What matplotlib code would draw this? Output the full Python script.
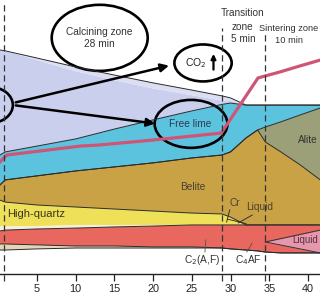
from matplotlib import pyplot as plt
from matplotlib.patches import Ellipse

plt.rcParams['font.family'] = ['Liberation Sans', 'DejaVu Sans']

# residence time in the kiln [min], shared by all phase boundaries
time_min = [0.2, 0.9, 5, 10, 15, 20, 25, 28.9, 30, 32, 33.5, 34.5, 36.5, 39, 41.6]

# cumulative phase amounts (stacked, relative units) - upper edge of each band
minor_top = [10.7, 10.7, 11.2, 11.6, 11.6, 11.6, 11.6, 11.6, 11.2, 10.7, 10.3, 9.8, 9.4, 9.4, 9.4]
ferrite_bottom = [13.4, 13.4, 13.0, 12.5, 12.5, 12.1, 12.1, 11.6, 11.2, 10.7, 10.3, 9.8, 9.4, 9.4, 9.4]
ferrite_top = [19.2, 19.6, 20.1, 20.5, 21.0, 21.4, 21.9, 21.9, 21.9, 21.9, 21.9, 21.9, 21.9, 21.9, 21.9]
quartz_bottom = [21.4, 21.4, 21.4, 21.9, 21.9, 21.9, 21.9, 21.9, 21.9, 21.9, 21.9, 21.9, 21.9, 21.9, 21.9]
quartz_top = [33.0, 32.1, 30.8, 29.9, 29.0, 28.1, 27.2, 26.8, 25.4, 21.9, 21.9, 21.9, 21.9, 21.9, 21.9]
belite_top = [39.7, 42.0, 43.8, 46.0, 47.8, 49.6, 51.8, 53.1, 54.5, 60.7, 64.3, 58.9, 54.5, 48.7, 42.0]
alite_top = [39.7, 42.0, 43.8, 46.0, 47.8, 49.6, 51.8, 53.1, 54.5, 60.7, 64.3, 65.6, 67.9, 71.0, 74.1]
lime_top = [53.1, 54.5, 57.1, 60.3, 64.7, 68.8, 72.8, 75.7, 76.3, 75.4, 75.4, 75.4, 75.4, 75.4, 75.4]
clay_bottom = [100.0, 99.6, 95.5, 90.5, 86.5, 82.8, 79.8, 77.4, 77.2, 75.4, 75.4, 75.4, 75.4, 75.4, 75.4]
calcite_top = [100.0, 99.6, 96.4, 92.4, 88.8, 85.3, 82.1, 79.5, 78.6, 75.4, 75.4, 75.4, 75.4, 75.4, 75.4]

# liquid phase wedge inside the ferrite band
liquid_time = [34.5, 41.6]
liquid_low = [14.3, 9.4]
liquid_high = [14.3, 19.6]

# material temperature curve (same vertical scale)
temp_time = [0.2, 1.1, 10.6, 13.1, 20.0, 28.8, 33.55, 36.4, 39.0, 41.6]
temp_curve = [50.0, 53.1, 57.1, 57.6, 59.8, 62.9, 87.5, 90.2, 92.9, 95.5]

# zone boundaries [min]
zone_bounds = [0.7, 28.9, 34.5]
zone_tops = [122.0, 109.8, 108.0]

fig = plt.figure(figsize=(3.2, 3.0), dpi=100)
ax = fig.add_axes([0, 26 / 300, 1, 274 / 300])

# stacked bands, bottom to top: (lower, upper, colour)
bands = [
    (minor_top, ferrite_bottom, '#e4d6b6'),
    (ferrite_bottom, ferrite_top, '#e8675e'),
    (ferrite_top, quartz_bottom, '#f4efdc'),
    (quartz_bottom, quartz_top, '#efe05a'),
    (quartz_top, belite_top, '#c9a245'),
    (belite_top, alite_top, '#9ca078'),
    (alite_top, lime_top, '#5cc3df'),
    (lime_top, clay_bottom, '#cbcfee'),
    (clay_bottom, calcite_top, '#dcdff2'),
]
for low, high, col in bands:
    ax.fill_between(time_min, low, high, color=col, lw=0)

ax.fill_between(liquid_time, liquid_low, liquid_high, color='#e597ad', lw=0)
ax.plot(liquid_time, liquid_low, color='#333333', lw=0.7)
ax.plot(liquid_time, liquid_high, color='#333333', lw=0.7)

# thin dark boundary lines between the phases
for edge in [minor_top, ferrite_bottom, ferrite_top, quartz_top, belite_top, alite_top, lime_top, calcite_top]:
    ax.plot(time_min, edge, color='#2b2b2b', lw=0.7)

# temperature curve
ax.plot(temp_time, temp_curve, color='#cf5576', lw=2.3, solid_joinstyle='miter')

# dashed zone separators
for xb, top in zip(zone_bounds, zone_tops):
    ax.plot([xb, xb], [-3, top], color='#333333', lw=0.9, ls=(0, (5, 3)), clip_on=False)

# circled annotations
ax.add_patch(Ellipse((13.1, 105.4), 12.4, 29.5, fill=False, ec='black', lw=1.9))
ax.text(13.1, 105.4, 'Calcining zone\n28 min', ha='center', va='center', fontsize=7.3, color='#333333')

ax.add_patch(Ellipse((26.45, 94.2), 7.4, 16.5, fill=False, ec='black', lw=1.9))
ax.text(25.5, 94.2, 'CO$_2$', ha='center', va='center', fontsize=7.5, color='#222222')
ax.annotate('', xy=(27.8, 99.5), xytext=(27.8, 90.0),
            arrowprops=dict(arrowstyle='-|>', lw=1.6, color='black', mutation_scale=7))

ax.add_patch(Ellipse((24.9, 67.0), 9.4, 21.4, fill=False, ec='black', lw=1.9))
ax.text(24.8, 67.0, 'Free lime', ha='center', va='center', fontsize=7.3, color='#2a3a55')

ax.add_patch(Ellipse((-1.07, 75.4), 5.9, 16.1, fill=False, ec='black', lw=1.9))
ax.annotate('', xy=(22.4, 93.3), xytext=(1.9, 76.3),
            arrowprops=dict(arrowstyle='-|>', lw=1.8, color='black', mutation_scale=12))
ax.annotate('', xy=(20.6, 67.0), xytext=(1.9, 75.4),
            arrowprops=dict(arrowstyle='-|>', lw=1.8, color='black', mutation_scale=12))

# zone titles
ax.text(31.6, 116.3, 'Transition', ha='center', va='center', fontsize=7.2, color='#333333')
ax.text(31.6, 107.6, 'zone\n5 min', ha='center', va='center', fontsize=7.2,
        color='#333333', linespacing=1.2)
ax.text(37.5, 106.9, 'Sintering zone\n10 min', ha='center', va='center', fontsize=6.7,
        color='#333333', linespacing=1.3)

# phase labels
ax.text(25.15, 38.8, 'Belite', ha='center', va='center', fontsize=7.3, color='#4a4030')
ax.text(1.1, 26.8, 'High-quartz', ha='left', va='center', fontsize=8, color='#3a3520')
ax.text(30.6, 31.7, 'Cr', ha='center', va='center', fontsize=7.3, color='#4a4030')
ax.text(33.7, 29.9, 'Liquid', ha='center', va='center', fontsize=7.3, color='#4a4030')
ax.plot([29.9, 29.5], [28.6, 23.2], color='#333333', lw=0.7)
ax.plot([32.8, 31.0], [26.3, 22.8], color='#333333', lw=0.7)
ax.plot([29.6, 32.0], [24.5, 22.5], color='#333333', lw=0.7)
ax.text(41.3, 59.8, 'Alite', ha='right', va='center', fontsize=7.3, color='#333333')
ax.text(41.3, 15.0, 'Liquid', ha='right', va='center', fontsize=7, color='#5a3040')
ax.text(26.3, 6.25, 'C$_2$(A,F)', ha='center', va='center', fontsize=7.3, color='#333333')
ax.text(32.3, 6.25, 'C$_4$AF', ha='center', va='center', fontsize=7.3, color='#333333')
ax.plot([26.7, 26.8], [9.8, 15.2], color='#555555', lw=0.6)
ax.plot([32.1, 32.8], [9.8, 13.8], color='#555555', lw=0.6)

# axis styling
ax.set_xlim(0.22, 41.56)
ax.set_ylim(0, 122.3)
ax.set_xticks([5, 10, 15, 20, 25, 30, 35, 40])
ax.set_yticks([])
for side in ['top', 'right', 'left']:
    ax.spines[side].set_visible(False)
ax.spines['bottom'].set_color('#222222')
ax.spines['bottom'].set_linewidth(1.0)
ax.tick_params(axis='x', direction='out', length=5, width=0.9, pad=2, labelsize=7.8, colors='#222222')

fig.savefig('out.png', dpi=100)
